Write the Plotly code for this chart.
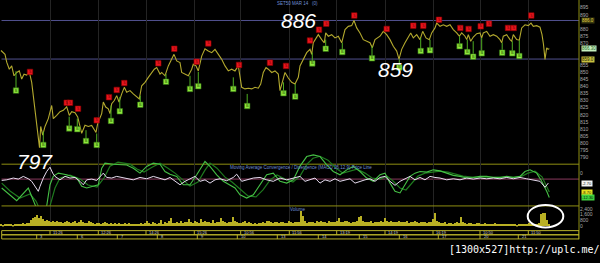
import plotly.graph_objects as go

W, H = 600, 263

# ---------------- data ----------------
price_bar = [1, 2.7, 5, 6.7, 9.3, 11.7, 14, 16.7, 19.3, 21.7, 24, 26.7, 29.3, 31.7, 33.3, 35, 36.7, 38.3, 39.5,
             40.7, 42.7, 45, 48.3, 51.7, 53.3, 56.7, 60, 63.3, 66.7, 69.3, 71.7, 75, 77.7, 80, 81.7, 85, 88.3,
             91.7, 93.3, 96, 97.7, 100, 101.7, 103.3, 105.7, 108.3, 110, 111.7, 114.3, 116.7, 119, 121.7, 124.3,
             126.7, 130, 133.3, 136.7, 139.3, 141.7, 145, 148.3, 151.7, 154.3, 156.7, 160, 161.7, 165, 168.3,
             171.7, 174, 176.7, 180, 181.7, 185, 188.3, 191.7, 193.3, 196, 198.3, 201.7, 205, 208.3, 211.7, 215,
             218.3, 221.7, 225, 228.3, 231.7, 235, 238.3, 240, 241.7, 245, 248.3, 251.7, 255, 258.3, 260.7, 263.3,
             266, 268.3, 271.7, 275, 278.3, 280, 282.7, 285, 288.3, 291.7, 295, 298.3, 300, 303.3, 306.7, 310,
             311.7, 313.3, 316.7, 318.3, 321.7, 324.3, 325.7, 328.3, 331.7, 335, 338.3, 341.7, 345, 348.3, 351.7,
             354, 356.7, 360, 363.3, 366.7, 370, 372.3, 375, 380, 383.3, 386.7, 390, 393.3, 396.7, 399, 401.7,
             405, 408.3, 410.7, 413.3, 416.7, 420, 422.7, 426, 429.3, 431.7, 435, 436.7, 440, 443.3, 446.7, 450,
             453.3, 456.7, 459.3, 461.7, 465, 466.7, 468.3, 470.7, 473.3, 476.7, 480, 481.7, 483.3, 486.7, 490,
             493.3, 496.7, 500, 501.7, 503.3, 506.7, 510, 511.7, 513.3, 516.7, 519.3, 521.7, 525, 528.3, 531,
             533.3, 536.7, 540, 542, 543.5, 545, 546.7, 548, 549.3]
price = [865.0, 863.5, 862.3, 856.8, 851.9, 854.2, 847.3, 849.6, 850.7, 845.0, 848.4, 847.8, 850.0, 842.7, 833.4,
         824.2, 817.3, 808.1, 797.0, 811.8, 805.8, 811.8, 817.3, 826.5, 817.3, 819.6, 822.2, 823.1, 825.6, 819.6,
         822.2, 821.5, 818.5, 811.8, 807.0, 812.7, 811.8, 812.5, 810.4, 807.6, 813.9, 817.3, 820.8, 828.9, 825.4,
         824.2, 820.8, 827.7, 830.0, 833.4, 828.9, 834.6, 839.2, 835.8, 836.9, 834.6, 832.3, 831.1, 840.3, 842.7,
         846.2, 849.6, 851.9, 853.1, 848.5, 849.6, 847.3, 854.2, 858.8, 862.3, 857.7, 856.5, 849.6, 848.5, 847.3,
         851.9, 855.4, 854.2, 850.7, 861.1, 866.2, 864.6, 863.5, 865.8, 862.3, 858.8, 854.2, 850.7, 851.9, 850.7,
         854.2, 846.2, 839.2, 838.1, 838.6, 838.1, 839.2, 838.6, 841.5, 849.6, 853.1, 851.9, 849.6, 850.7, 848.5,
         836.9, 843.8, 849.6, 845.7, 842.7, 841.5, 846.2, 854.2, 858.8, 863.5, 865.8, 862.3, 870.4, 875.0, 876.1,
         872.6, 870.4, 877.3, 875.0, 876.1, 873.8, 875.0, 870.4, 879.6, 881.9, 882.4, 886.0, 880.8, 877.3, 872.6,
         871.5, 870.4, 866.9, 872.6, 875.0, 878.4, 876.1, 872.6, 868.0, 864.6, 859.0, 865.8, 870.4, 875.0, 877.3,
         873.8, 876.1, 872.6, 878.4, 873.8, 872.6, 877.3, 880.8, 884.2, 881.9, 883.0, 881.9, 883.0, 879.6, 877.3,
         875.0, 877.3, 875.0, 872.6, 876.1, 871.5, 874.4, 876.8, 877.3, 873.8, 877.3, 878.4, 875.0, 876.1, 875.0,
         872.6, 870.4, 875.0, 876.1, 872.6, 871.5, 876.1, 872.6, 872.2, 880.8, 883.0, 882.4, 884.2, 881.9, 882.4,
         881.3, 876.1, 869.2, 858.8, 866.9, 865.8, 866.3]

sell_bar = [30, 66.7, 70, 78, 96.7, 109, 116.7, 124.3, 158.3, 174.3, 196.7, 208.3, 239, 270, 286, 310, 319,
            326.3, 354.3, 386.7, 413.3, 423.3, 439, 460.3, 468.6, 480.7, 489, 508, 513.7, 531.3]
sell_mark = [850.0, 828.4, 828.4, 824.2, 816.1, 832.3, 837.4, 842.2, 856.0, 866.2, 857.2, 869.9, 854.9, 856.5,
             854.2, 872.0, 879.6, 883.8, 889.5, 880.1, 882.4, 882.4, 886.5, 880.8, 880.1, 881.9, 883.8, 880.8,
             880.8, 889.5]

buy_bar = [16, 43.3, 69.2, 77.3, 86, 96.7, 111, 119.8, 140.3, 166, 190, 198.3, 233.3, 247.2, 283.5, 295.2,
           312.3, 325.7, 342.3, 372, 399.3, 420.7, 430, 459.6, 467.3, 473.2, 481.7, 502.2, 512.3, 519.3]
buy_price = [850.5, 808.3, 818.7, 817.3, 809.2, 806.9, 826.5, 832.5, 833.4, 848.5, 847.3, 850.0, 846.2, 834.6,
             842.7, 841.5, 863.5, 872.6, 870.4, 868.0, 858.8, 873.8, 872.6, 875.0, 872.6, 871.5, 873.8, 870.4,
             871.5, 872.2]
buy_mark = [836.9, 798.9, 810.4, 809.9, 801.6, 798.9, 815.7, 822.4, 827.0, 843.1, 838.1, 840.0, 838.1, 826.1,
            835.1, 832.7, 855.9, 866.2, 863.9, 859.5, 853.1, 864.6, 865.1, 868.0, 863.9, 860.7, 863.0, 863.5,
            863.0, 861.1]

levels = [886.0, 859.0]

macd_bar = [1.7, 13.3, 16.7, 28.3, 35, 38, 44, 46.7, 50, 53.3, 58.3, 66.7, 76.7, 81.7, 86.7, 93.3, 98.3, 101.7,
            105, 113.3, 126.7, 133.3, 140, 146.7, 153.3, 160, 165, 170, 176.7, 183.3, 190, 196.7, 201.7, 205, 210,
            216.7, 223.3, 230, 235, 240, 246.7, 253.3, 260, 266.7, 273.3, 280, 286.7, 293.3, 300, 306.7, 313.3,
            320, 326.7, 333.3, 340, 346.7, 353.3, 360, 366.7, 373.3, 380, 385, 390, 395, 400, 405, 410, 415, 420,
            426.7, 433.3, 440, 446.7, 453.3, 460, 466.7, 473.3, 480, 486.7, 493.3, 500, 506.7, 513.3, 520, 525,
            530, 536.7, 541.7, 546.7, 549.3]
macd = [-6.0, -12.7, -14.5, -6.0, -16.0, -22.0, -22.0, -18.0, -3.8, 1.8, 4.0, 2.9, 0.7, -4.9, -6.0, -4.9, -3.8,
        7.3, 10.7, 10.0, 9.5, 7.3, 4.0, 8.5, 10.7, 10.0, 5.1, 3.3, 1.8, -3.8, -3.8, 2.9, 8.5, 11.8, 8.5, 2.9,
        -1.5, -3.8, -6.0, -10.5, -12.7, -10.5, -3.8, 2.9, 4.0, -1.5, -2.7, -0.5, 8.7, 15.1, 16.2, 15.1, 9.5, 5.1,
        2.9, 6.2, 8.5, 5.1, 0.7, -1.5, 2.9, 4.0, -2.7, -8.2, -9.3, -3.8, 1.8, 4.0, 5.1, 4.7, 6.2, 5.5, 4.0, 2.5,
        1.8, 0.7, 1.1, 1.8, 1.8, 1.1, 1.1, 1.8, 1.1, 1.8, 5.1, 6.2, 4.0, -1.5, -8.2, -12.3]

signal_bar = [1.7, 10, 20, 30, 36, 40, 47, 50, 55, 60, 70, 80, 88, 97, 104, 110, 118, 130, 137, 144, 152, 160,
              168, 175, 182, 190, 198, 205, 210, 217, 225, 232, 240, 248, 256, 263, 270, 277, 285, 293, 300, 307,
              313, 320, 328, 336, 343, 350, 357, 365, 372, 380, 387, 393, 400, 406, 412, 418, 425, 433, 440, 448,
              455, 463, 472, 485, 500, 515, 522, 528, 535, 542, 549.3]
signal = [-2.7, -8.0, -12.7, -10.0, -14.7, -20.7, -22.0, -18.0, -6.0, 0.7, 2.7, 0.0, -4.0, -5.3, 0.7, 8.7, 11.3,
          10.0, 6.7, 4.7, 8.0, 10.7, 7.3, 4.0, 0.0, -4.7, -2.0, 6.0, 10.7, 7.3, 1.3, -2.0, -6.7, -11.3, -12.0,
          -7.3, -0.7, 2.7, 0.0, -2.0, 2.0, 10.0, 14.0, 15.3, 12.7, 7.3, 4.0, 5.3, 6.7, 4.0, 0.7, 0.0, 2.0, -1.3,
          -6.0, -7.3, -2.7, 2.0, 4.0, 4.7, 5.3, 4.7, 3.3, 2.0, 1.3, 1.3, 1.3, 1.3, 2.0, 4.0, 5.3, 1.5, -8.7]

osc_bar = [1.7, 6.7, 13.3, 18.3, 23.3, 28.3, 31.7, 35, 38.3, 40, 43.3, 46.7, 50, 52.7, 55, 60, 65, 70, 75, 80,
           83.3, 86.7, 91.7, 96.7, 100, 103.3, 106.7, 111.7, 116.7, 121.7, 126.7, 133.3, 140, 146.7, 153.3, 160,
           165, 170, 175, 180, 185, 190, 195, 200, 205, 210, 215, 220, 226.7, 233.3, 236.7, 241.7, 246.7, 253.3,
           260, 266.7, 273.3, 280, 286.7, 293.3, 300, 305, 310, 315, 320, 325, 330, 335, 340, 345, 350, 355, 360,
           365, 370, 375, 380, 385, 390, 395, 400, 405, 410, 415, 420, 425, 430, 435, 440, 446.7, 453.3, 460,
           466.7, 473.3, 480, 486.7, 493.3, 500, 506.7, 513.3, 520, 526.7, 533.3, 540, 545, 548.3]
osc = [-0.9, -0.5, 0.7, 0.0, 1.8, 0.2, -1.5, -4.9, -8.2, -4.9, 0.7, 5.1, 8.0, 4.0, 1.8, -0.5, 1.8, 0.7, 1.1,
       -1.5, -3.8, -0.5, 0.0, -0.9, 1.8, 4.0, 1.1, 0.7, 1.8, 1.1, 0.2, -0.5, 1.1, 0.2, 1.8, 0.2, -0.5, 1.1, -1.5,
       -3.8, -1.5, 0.2, 1.8, -1.5, -0.5, -2.7, -0.5, 0.2, -1.1, 1.1, 3.3, -1.5, -0.5, 0.7, 1.1, -0.5, -1.5, 0.7,
       -0.5, 0.7, 1.8, -1.5, -0.5, 0.7, -2.7, -0.5, -1.5, 0.2, -1.5, -0.5, 0.2, -2.7, -1.5, -0.5, 0.2, -1.5, 1.1,
       1.8, -1.5, -4.2, -1.5, 0.2, 1.8, -0.5, 1.1, -0.5, 1.8, 1.1, 0.7, -0.5, 0.2, -0.5, 0.7, 0.0, 0.7, 0.2, 0.7,
       0.2, 1.1, 0.2, 1.1, 0.2, -0.5, -1.5, -5.5, -2.7]
macd_levels = [10, 0]

vol_bar = list(range(1, 550, 2))
vol = [300, 250, 350, 280, 400, 300, 260, 380, 320, 290,
       350, 420, 380, 500, 450, 900, 1100, 1300, 1600, 1200,
       1400, 1000, 800, 950, 700, 650, 800, 600, 700, 550,
       650, 500, 600, 750, 550, 480, 620, 700, 520, 600,
       850, 600, 500, 450, 700, 550, 480, 400, 520, 450,
       380, 450, 600, 420, 350, 500, 380, 420, 300, 450,
       350, 300, 420, 380, 500, 320, 280, 350, 400, 300,
       450, 350, 500, 800, 420, 380, 600, 450, 350, 500,
       950, 400, 550, 480, 700, 1100, 500, 450, 600, 520,
       750, 480, 600, 550, 1000, 650, 500, 700, 550, 480,
       1000, 600, 700, 550, 650, 500, 900, 450, 550, 600,
       1200, 700, 550, 500, 650, 600, 1300, 800, 550, 450,
       500, 600, 700, 450, 550, 500, 400, 450, 380, 500,
       450, 600, 500, 700, 800, 550, 500, 650, 600, 500,
       600, 550, 500, 450, 700, 600, 500, 550, 600, 650,
       2100, 1500, 700, 500, 600, 550, 650, 500, 700, 600,
       800, 600, 550, 500, 700, 650, 550, 600, 700, 1100,
       600, 550, 800, 700, 650, 500, 600, 550, 700, 1300,
       1500, 700, 600, 550, 650, 700, 500, 600, 550, 650,
       700, 600, 1200, 800, 650, 700, 600, 550, 650, 700,
       600, 550, 650, 700, 500, 600, 550, 700, 600, 500,
       550, 600, 650, 500, 550, 600, 1000, 1900, 700, 550,
       500, 450, 550, 400, 500, 450, 400, 500, 550, 450,
       1300, 600, 450, 400, 500, 450, 350, 400, 450, 500,
       400, 350, 450, 400, 350, 300, 400, 450, 350, 300,
       350, 300, 400, 350, 300, 400, 350, 300, 250, 350,
       300, 350, 400, 300, 450, 350, 300, 400, 350, 500,
       1700, 1850, 1800, 900, 400]
vol_ticks = [0, 800, 1600, 2400]
vol_ticktext = ["0", "800", "1,600", "2,400"]

# 860, 865 and 885 sit under the value boxes in the reference
price_ticks = [790, 795, 800, 805, 810, 815, 820, 825, 830, 835, 840, 845, 850, 855, 870, 875, 880, 890, 895]

day_start = [36.7, 77.3, 117.3, 157.3, 197.3, 237.3, 277.3, 318.3, 359.3, 399.3, 438.3, 480, 518.3]
day_label = ["3", "6", "7", "8", "9", "10", "13", "14", "15", "16", "17", "20", "21"]
time_mark = [50, 98.3, 146, 194.3, 240.7, 289.3, 336.7, 385, 433, 480, 528.3]
time_label = ["11:26", "12:26", "14:26", "15:26", "10:56", "11:56", "13:19", "14:19", "16:19", "10:50", "11:50"]

last_price = price[-1]
last_osc, last_signal, last_macd = osc[-1], signal[-1], macd[-1]

# ---------------- helpers for layout placement ----------------
def py(y):
    return 1 - y / H

X_END = 579
OLIVE = "#8f8f12"
YEL = "#b8b12a"

fig = go.Figure()

# price line
fig.add_trace(go.Scatter(x=price_bar, y=price, mode="lines",
                         line=dict(color="#b3a92e", width=1.1), hoverinfo="skip"))

# buy stems
sx, sy = [], []
for b, p, m in zip(buy_bar, buy_price, buy_mark):
    sx += [b, b, None]
    sy += [p, m, None]
fig.add_trace(go.Scatter(x=sx, y=sy, mode="lines", line=dict(color="#4fae22", width=1),
                         hoverinfo="skip"))
# buy / sell squares with their letter
fig.add_trace(go.Scatter(x=buy_bar, y=buy_mark, mode="markers+text", text=["B"] * len(buy_bar),
                         textposition="middle center", textfont=dict(size=4, color="#1d4a00"),
                         marker=dict(symbol="square", size=5.5, color="#8ee83c",
                                     line=dict(color="#2e6a10", width=0.6)), hoverinfo="skip"))
fig.add_trace(go.Scatter(x=sell_bar, y=sell_mark, mode="markers+text", text=["S"] * len(sell_bar),
                         textposition="middle center", textfont=dict(size=4, color="#5a0000"),
                         marker=dict(symbol="square", size=5.5, color="#e8141c",
                                     line=dict(color="#8a0000", width=0.6)), hoverinfo="skip"))

# MACD panel
fig.add_trace(go.Scatter(x=signal_bar, y=signal, yaxis="y2", mode="lines",
                         line=dict(color="#1f7a1f", width=1.2), hoverinfo="skip"))
fig.add_trace(go.Scatter(x=macd_bar, y=macd, yaxis="y2", mode="lines",
                         line=dict(color="#45c045", width=1.1), hoverinfo="skip"))
fig.add_trace(go.Scatter(x=osc_bar, y=osc, yaxis="y2", mode="lines",
                         line=dict(color="#e6dcef", width=1), hoverinfo="skip"))

# volume
fig.add_trace(go.Bar(x=vol_bar, y=vol, yaxis="y3", width=1.7,
                     marker=dict(color="#b9b024", line=dict(width=0)), hoverinfo="skip"))

shapes = []
for lv in levels:
    shapes.append(dict(type="line", xref="x", yref="y", x0=1.5, x1=X_END, y0=lv, y1=lv,
                       line=dict(color="#50508e", width=1), layer="below"))
shapes.append(dict(type="line", xref="x", yref="y2", x0=1.5, x1=X_END, y0=macd_levels[1], y1=macd_levels[1],
                   line=dict(color="#8a3a5e", width=1), layer="below"))
shapes.append(dict(type="line", xref="x", yref="y2", x0=1.5, x1=X_END, y0=macd_levels[0], y1=macd_levels[0],
                   line=dict(color=OLIVE, width=1), layer="below"))
shapes.append(dict(type="line", xref="x", yref="paper", x0=1.5, x1=X_END, y0=py(208.3), y1=py(208.3),
                   line=dict(color=OLIVE, width=1)))
shapes.append(dict(type="line", xref="paper", yref="paper", x0=X_END / W, x1=X_END / W, y0=py(0), y1=py(242),
                   line=dict(color=OLIVE, width=1)))
for ya, yb in [(233.3, 237.5), (237.5, 241.7)]:
    shapes.append(dict(type="rect", xref="x", yref="paper", x0=1.7, x1=X_END, y0=py(yb), y1=py(ya),
                       line=dict(color=YEL, width=1)))
for t in time_mark:
    shapes.append(dict(type="line", xref="x", yref="paper", x0=t, x1=t, y0=py(237.5), y1=py(233.3),
                       line=dict(color=YEL, width=1)))
for d in day_start:
    shapes.append(dict(type="line", xref="x", yref="paper", x0=d, x1=d, y0=py(241.7), y1=py(237.5),
                       line=dict(color=YEL, width=1)))
shapes.append(dict(type="circle", xref="x", yref="paper", x0=527.7, x1=563.3, y0=py(230), y1=py(207.3),
                   line=dict(color="white", width=2)))

ann = []
for t, lab in zip(time_mark, time_label):
    ann.append(dict(x=t + 1, y=py(235.4), xref="x", yref="paper", text=lab, showarrow=False,
                    xanchor="left", yanchor="middle", font=dict(size=4, color="#cfcfcf", family="Liberation Sans")))
for d, lab in zip(day_start, day_label):
    ann.append(dict(x=d + 1.5, y=py(239.6), xref="x", yref="paper", text=lab, showarrow=False,
                    xanchor="left", yanchor="middle", font=dict(size=4, color="#cfcfcf", family="Liberation Sans")))

big = dict(family="Liberation Sans", size=21, color="white")
ann.append(dict(x=279, y=py(20.5), xref="x", yref="paper", text="<i>886</i>", showarrow=False,
                xanchor="left", yanchor="middle", font=big))
ann.append(dict(x=376, y=py(70.5), xref="x", yref="paper", text="<i>859</i>", showarrow=False,
                xanchor="left", yanchor="middle", font=big))
ann.append(dict(x=15, y=py(163.5), xref="x", yref="paper", text="<i>797</i>", showarrow=False,
                xanchor="left", yanchor="middle", font=big))

small_blue = dict(family="Liberation Sans", size=4.5, color="#6f8fd8")
ann.append(dict(x=275, y=py(4), xref="x", yref="paper", text="SET50 MAR 14 &nbsp; (0)", showarrow=False,
                xanchor="left", yanchor="middle", font=small_blue))
ann.append(dict(x=228, y=py(169.5), xref="x", yref="paper",
                text="Moving Average Convergence / Divergence (MACD 26,12,9) Price Line", showarrow=False,
                xanchor="left", yanchor="middle", font=small_blue))
ann.append(dict(x=288, y=py(211.5), xref="x", yref="paper", text="Volume", showarrow=False,
                xanchor="left", yanchor="middle", font=small_blue))

def box(yval, yref, text, bg, fg, size=5):
    return dict(x=(X_END + 1.5) / W, y=yval, xref="paper", yref=yref, text=text, showarrow=False,
                xanchor="left", yanchor="middle", bgcolor=bg, borderpad=0,
                font=dict(size=size, color=fg, family="Liberation Sans"))

ann.append(box(levels[0], "y", "%.1f" % levels[0], "#3a3a10", "#e0d040", 4.5))
ann.append(box(levels[1], "y", "%.1f" % levels[1], "#c8c040", "#202000", 4.5))
ann.append(box(last_price, "y", "%.2f" % last_price, "#c8f2c0", "#206020", 4.5))
ann.append(box(last_osc, "y2", "%.2f" % last_osc, "#f4f4f4", "#202020", 4))
ann.append(box(last_signal, "y2", "%.2f" % last_signal, "#e8e020", "#202000", 4))
ann.append(box(last_macd, "y2", "%.2f" % last_macd, "#40d040", "#002000", 4))

ann.append(dict(x=446.5 / W, y=py(252.5), xref="paper", yref="paper", text="[1300x527]http://uplc.me/",
                showarrow=False, xanchor="left", yanchor="middle",
                font=dict(family="DejaVu Sans Mono", size=10, color="white")))

tickfont = dict(size=5, color="#a8a8a8", family="Liberation Sans")
fig.update_layout(
    width=W, height=H, margin=dict(l=0, r=0, t=0, b=0),
    paper_bgcolor="black", plot_bgcolor="black", showlegend=False,
    xaxis=dict(domain=[0, X_END / W], range=[0, X_END], showgrid=True, gridcolor="#242424", gridwidth=1,
               tickvals=time_mark, showticklabels=False, ticks="", zeroline=False, showline=False,
               fixedrange=True),
    yaxis=dict(domain=[py(160), 1], range=[789.6, 900.35], side="right", anchor="x", tickvals=price_ticks,
               tickfont=tickfont, showgrid=False, zeroline=False, showline=False, ticks="", fixedrange=True),
    yaxis2=dict(domain=[py(208.3), py(152)], range=[-18, 19.33], side="right", anchor="x", tickvals=[4],
                ticktext=["0"], tickfont=tickfont, showgrid=False, zeroline=False, showline=False, ticks="",
                fixedrange=True),
    yaxis3=dict(domain=[py(229), py(208.3)], range=[0, 2800], side="right", anchor="x", tickvals=vol_ticks,
                ticktext=vol_ticktext, tickfont=tickfont, showgrid=False, zeroline=False, showline=False,
                ticks="", fixedrange=True),
    shapes=shapes, annotations=ann, bargap=0,
)

fig.write_html("out.html", config={"displayModeBar": False})
